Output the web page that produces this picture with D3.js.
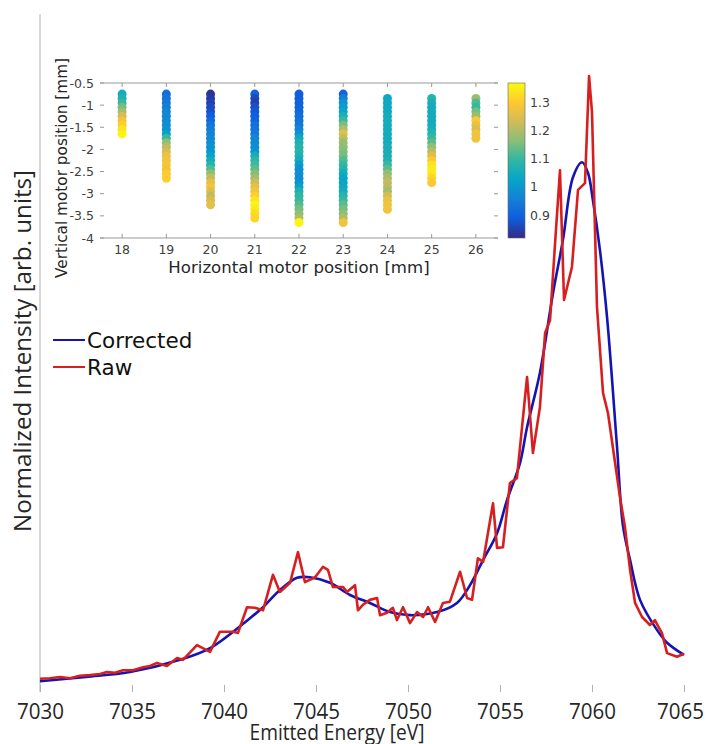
<!DOCTYPE html>
<html>
<head>
<meta charset="utf-8">
<script src="https://cdn.jsdelivr.net/npm/d3@7"></script>
<style>
  body { margin: 0; background: #fff; }
  svg { display: block; }
</style>
</head>
<body>
<div id="chart"></div>
<script>
const width = 707;
const height = 744;

// main spectrum
const correctedEnergy = [7030.00, 7032.50, 7034.89, 7037.61, 7039.24, 7041.41, 7042.12, 7043.04, 7043.97,
  7044.67, 7045.76, 7046.85, 7047.93, 7049.02, 7050.11, 7051.58, 7052.66, 7053.37, 7054.08, 7054.84,
  7055.38, 7056.09, 7056.47, 7057.17, 7057.88, 7058.42, 7058.97, 7059.46, 7059.78, 7060.05, 7060.43,
  7060.82, 7061.36, 7061.68, 7062.07, 7062.61, 7063.53, 7064.08, 7065.00];
const correctedIntensity = [0.011, 0.018, 0.026, 0.046, 0.065, 0.114, 0.132, 0.160, 0.180,
  0.181, 0.172, 0.152, 0.139, 0.124, 0.119, 0.124, 0.139, 0.168, 0.209, 0.253,
  0.307, 0.368, 0.426, 0.515, 0.645, 0.732, 0.835, 0.859, 0.842, 0.797, 0.716,
  0.605, 0.394, 0.266, 0.209, 0.144, 0.095, 0.074, 0.054];

const rawEnergy = [7030.00, 7030.54, 7031.09, 7031.63, 7032.17, 7032.72, 7033.26, 7033.64, 7034.08, 7034.51,
  7035.05, 7035.60, 7035.98, 7036.36, 7036.90, 7037.45, 7037.77, 7038.53, 7039.24, 7039.78,
  7040.49, 7040.76, 7041.25, 7041.68, 7042.12, 7042.66, 7043.04, 7043.59, 7044.02, 7044.40,
  7044.95, 7045.38, 7045.65, 7045.92, 7046.47, 7046.68, 7047.12, 7047.28, 7047.55, 7047.93,
  7048.32, 7048.48, 7048.86, 7049.18, 7049.40, 7049.73, 7050.11, 7050.49, 7050.82, 7051.09,
  7051.47, 7051.90, 7052.28, 7052.83, 7053.21, 7053.48, 7053.80, 7054.08, 7054.62, 7054.84,
  7055.16, 7055.54, 7055.92, 7056.47, 7056.79, 7057.17, 7057.45, 7057.72, 7058.04, 7058.26,
  7058.48, 7058.91, 7059.24, 7059.62, 7059.84, 7060.00, 7060.27, 7060.60, 7060.87, 7061.52,
  7061.79, 7062.07, 7062.34, 7062.72, 7063.15, 7063.42, 7063.59, 7063.80, 7064.08, 7064.62,
  7065.00];
const rawIntensity = [0.015, 0.016, 0.018, 0.016, 0.020, 0.021, 0.023, 0.026, 0.025, 0.029,
  0.029, 0.034, 0.036, 0.041, 0.036, 0.049, 0.046, 0.070, 0.059, 0.092,
  0.092, 0.090, 0.132, 0.131, 0.127, 0.185, 0.157, 0.172, 0.222, 0.173,
  0.181, 0.198, 0.193, 0.165, 0.165, 0.157, 0.168, 0.127, 0.136, 0.144,
  0.147, 0.119, 0.123, 0.131, 0.111, 0.132, 0.106, 0.124, 0.116, 0.132,
  0.108, 0.139, 0.141, 0.190, 0.147, 0.144, 0.212, 0.206, 0.302, 0.229,
  0.230, 0.335, 0.343, 0.508, 0.384, 0.459, 0.580, 0.601, 0.748, 0.846,
  0.634, 0.688, 0.814, 0.825, 1.000, 0.941, 0.623, 0.482, 0.449, 0.312,
  0.263, 0.193, 0.139, 0.116, 0.103, 0.111, 0.101, 0.090, 0.057, 0.051,
  0.056];

const energyTicks = [7030, 7035, 7040, 7045, 7050, 7055, 7060, 7065];

// inset: scan map of the sample (colour = intensity ratio)
const horizPos = [18, 19, 20, 21, 22, 23, 24, 25, 26];
const vertTop = [-0.75, -0.75, -0.75, -0.75, -0.75, -0.75, -0.85, -0.85, -0.85];
const vertStep = 0.1;
const ratioCols = [
  [1.05, 1.07, 1.10, 1.15, 1.19, 1.24, 1.28, 1.31, 1.34, 1.36],
  [0.92, 0.93, 0.94, 0.95, 0.96, 0.97, 0.97, 0.98, 0.99, 1.02, 1.10, 1.17, 1.21, 1.24, 1.27, 1.28, 1.29, 1.28, 1.30, 1.31],
  [0.83, 0.84, 0.85, 0.86, 0.87, 0.89, 0.91, 0.93, 0.95, 0.96, 0.97, 0.98, 0.99, 1.00, 1.02, 1.05, 1.08, 1.12, 1.17, 1.22,
   1.26, 1.28, 1.25, 1.22, 1.24, 1.26],
  [0.90, 0.86, 0.85, 0.87, 0.88, 0.89, 0.90, 0.92, 0.93, 0.94, 0.96, 0.97, 0.98, 0.99, 1.05, 1.09, 1.11, 1.13, 1.16, 1.19,
   1.23, 1.26, 1.28, 1.31, 1.34, 1.36, 1.35, 1.33, 1.32],
  [0.89, 0.89, 0.90, 0.90, 0.91, 0.92, 0.93, 0.94, 0.96, 0.99, 1.04, 1.07, 1.08, 1.08, 1.07, 1.05, 1.01, 0.99, 0.98, 0.98,
   0.99, 1.02, 1.07, 1.09, 1.10, 1.12, 1.15, 1.17, 1.20, 1.36],
  [0.90, 0.95, 0.99, 1.01, 1.03, 1.06, 1.10, 1.15, 1.20, 1.26, 1.22, 1.18, 1.17, 1.16, 1.15, 1.12, 1.10, 1.08, 1.05, 1.03,
   1.03, 1.04, 1.05, 1.08, 1.10, 1.13, 1.15, 1.17, 1.20, 1.28],
  [1.04, 1.04, 1.04, 1.04, 1.05, 1.05, 1.05, 1.05, 1.05, 1.05, 1.05, 1.06, 1.06, 1.06, 1.07, 1.10, 1.13, 1.17, 1.20, 1.22,
   1.21, 1.19, 1.24, 1.27, 1.28, 1.28],
  [1.08, 1.06, 1.05, 1.05, 1.05, 1.05, 1.05, 1.06, 1.08, 1.10, 1.13, 1.17, 1.21, 1.25, 1.30, 1.34, 1.35, 1.35, 1.32, 1.30],
  [1.18, 1.12, 1.10, 1.15, 1.18, 1.30, 1.27, 1.25, 1.28, 1.28]
];
const vertTicks = [-4, -3.5, -3, -2.5, -2, -1.5, -1, -0.5];
const cbarTicks = [0.9, 1, 1.1, 1.2, 1.3];
const cbarRange = [0.818, 1.371];
const parula = ["#352a87", "#0f5cdd", "#1481d6", "#06a4ca", "#2eb7a4", "#87bf77", "#d1bb59", "#fec832", "#f9fb0e"];

const mainFont = "Open Sans";
const insetFont = "DejaVu Sans";

const svg = d3.select("#chart")
  .append("svg")
  .attr("width", width)
  .attr("height", height)
  .attr("font-family", mainFont);

// ---------- main axes ----------
let xScale = d3.scaleLinear()
  .domain([7030, 7065])
  .range([40, 684]);

let yScale = d3.scaleLinear()
  .domain([0, 1.1])
  .range([688, 14.8]);

// left axis is only a grey line, no ticks
svg.append("line")
  .attr("x1", 40).attr("x2", 40)
  .attr("y1", 14).attr("y2", 692)
  .attr("stroke", "#b0b0b0")
  .attr("stroke-width", 1);

let xAxis = svg.append("g")
  .attr("transform", "translate(0,692)")
  .call(d3.axisBottom(xScale)
    .tickValues(energyTicks)
    .tickFormat(d3.format("d"))
    .tickSizeInner(-7)
    .tickSizeOuter(0));
xAxis.select(".domain").remove();
xAxis.selectAll(".tick line").attr("stroke", "#b0b0b0");
xAxis.selectAll(".tick text")
  .attr("x", d => d === 7065 ? -4 : 0)
  .attr("y", 0)
  .attr("dy", "27px")
  .attr("font-size", 22)
  .attr("font-family", mainFont)
  .attr("fill", "#262626")
  .attr("textLength", 47)
  .attr("lengthAdjust", "spacingAndGlyphs");

svg.append("text")
  .attr("x", 337)
  .attr("y", 740)
  .attr("text-anchor", "middle")
  .attr("font-size", 22)
  .attr("fill", "#262626")
  .attr("textLength", 175)
  .attr("lengthAdjust", "spacingAndGlyphs")
  .text("Emitted Energy [eV]");

svg.append("text")
  .attr("transform", "translate(31,351) rotate(-90)")
  .attr("text-anchor", "middle")
  .attr("font-size", 24)
  .attr("fill", "#262626")
  .attr("textLength", 362)
  .attr("lengthAdjust", "spacingAndGlyphs")
  .text("Normalized Intensity [arb. units]");

// spectra
const corrected = correctedEnergy.map((e, i) => ({e: e, v: correctedIntensity[i]}));
const raw = rawEnergy.map((e, i) => ({e: e, v: rawIntensity[i]}));

svg.append("path")
  .datum(corrected)
  .attr("fill", "none")
  .attr("stroke", "#1414b4")
  .attr("stroke-width", 2.6)
  .attr("stroke-linejoin", "round")
  .attr("d", d3.line().x(d => xScale(d.e)).y(d => yScale(d.v)).curve(d3.curveCatmullRom));

svg.append("path")
  .datum(raw)
  .attr("fill", "none")
  .attr("stroke", "#d71f1f")
  .attr("stroke-width", 2.6)
  .attr("stroke-linejoin", "round")
  .attr("d", d3.line().x(d => xScale(d.e)).y(d => yScale(d.v)));

// legend
const legend = [{name: "Corrected", color: "#1414b4", y: 340}, {name: "Raw", color: "#d71f1f", y: 367}];
let lg = svg.selectAll(".legend")
  .data(legend).enter()
  .append("g");
lg.append("line")
  .attr("x1", 53).attr("x2", 85)
  .attr("y1", d => d.y).attr("y2", d => d.y)
  .attr("stroke", d => d.color)
  .attr("stroke-width", 2);
lg.append("text")
  .attr("x", 87)
  .attr("y", d => d.y + 7.5)
  .attr("font-family", insetFont)
  .attr("font-size", 21.5)
  .attr("fill", "#111")
  .text(d => d.name);

// ---------- inset ----------
let ix = d3.scaleLinear().domain([17.5, 26.5]).range([100, 498]);
let iy = d3.scaleLinear().domain([-4, -0.5]).range([238, 83]);
let colorScale = d3.scaleSequential(d3.piecewise(d3.interpolateRgb, parula)).domain(cbarRange);

let inset = svg.append("g").attr("font-family", insetFont);

// top & bottom frame lines
inset.selectAll(".frame")
  .data([83, 238]).enter()
  .append("line")
  .attr("x1", 100).attr("x2", 498)
  .attr("y1", d => d).attr("y2", d => d)
  .attr("stroke", "#999")
  .attr("stroke-width", 1);

// x ticks (bottom + top, pointing in)
inset.selectAll(".xt")
  .data(horizPos.flatMap(h => [[h, 238, 234], [h, 83, 87]])).enter()
  .append("line")
  .attr("x1", d => ix(d[0])).attr("x2", d => ix(d[0]))
  .attr("y1", d => d[1]).attr("y2", d => d[2])
  .attr("stroke", "#999");

// y ticks (left + right, pointing in)
inset.selectAll(".yt")
  .data(vertTicks.flatMap(v => [[v, 100, 104], [v, 498, 494]])).enter()
  .append("line")
  .attr("x1", d => d[1]).attr("x2", d => d[2])
  .attr("y1", d => iy(d[0])).attr("y2", d => iy(d[0]))
  .attr("stroke", "#999");

inset.selectAll(".xl")
  .data(horizPos).enter()
  .append("text")
  .attr("x", d => ix(d))
  .attr("y", 254)
  .attr("text-anchor", "middle")
  .attr("font-size", 12.5)
  .attr("fill", "#404040")
  .text(d => d);

inset.selectAll(".yl")
  .data(vertTicks).enter()
  .append("text")
  .attr("x", 94)
  .attr("y", d => iy(d) + 4.5)
  .attr("text-anchor", "end")
  .attr("font-size", 12.5)
  .attr("fill", "#404040")
  .text(d => d);

inset.append("text")
  .attr("x", 299)
  .attr("y", 273)
  .attr("text-anchor", "middle")
  .attr("font-size", 16.6)
  .attr("fill", "#262626")
  .text("Horizontal motor position [mm]");

inset.append("text")
  .attr("transform", "translate(67,168) rotate(-90)")
  .attr("text-anchor", "middle")
  .attr("font-size", 15.3)
  .attr("fill", "#262626")
  .text("Vertical motor position [mm]");

// scan points
const dots = horizPos.flatMap((h, c) =>
  ratioCols[c].map((r, i) => ({h: h, v: vertTop[c] - i * vertStep, r: r})));

inset.selectAll("circle")
  .data(dots).enter()
  .append("circle")
  .attr("cx", d => ix(d.h))
  .attr("cy", d => iy(d.v))
  .attr("r", 4.5)
  .attr("fill", d => colorScale(d.r));

// colorbar
let cy = d3.scaleLinear().domain(cbarRange).range([238, 83]);
let grad = svg.append("defs").append("linearGradient")
  .attr("id", "parula")
  .attr("x1", 0).attr("x2", 0).attr("y1", 1).attr("y2", 0);
grad.selectAll("stop")
  .data(parula).enter()
  .append("stop")
  .attr("offset", (d, i) => i / (parula.length - 1))
  .attr("stop-color", d => d);

inset.append("rect")
  .attr("x", 508).attr("y", 83)
  .attr("width", 17).attr("height", 155)
  .attr("fill", "url(#parula)")
  .attr("stroke", "#666")
  .attr("stroke-width", 0.6);

inset.selectAll(".cl")
  .data(cbarTicks).enter()
  .append("text")
  .attr("x", 530)
  .attr("y", d => cy(d) + 4.5)
  .attr("font-size", 12.5)
  .attr("fill", "#404040")
  .text(d => d);
</script>
</body>
</html>
